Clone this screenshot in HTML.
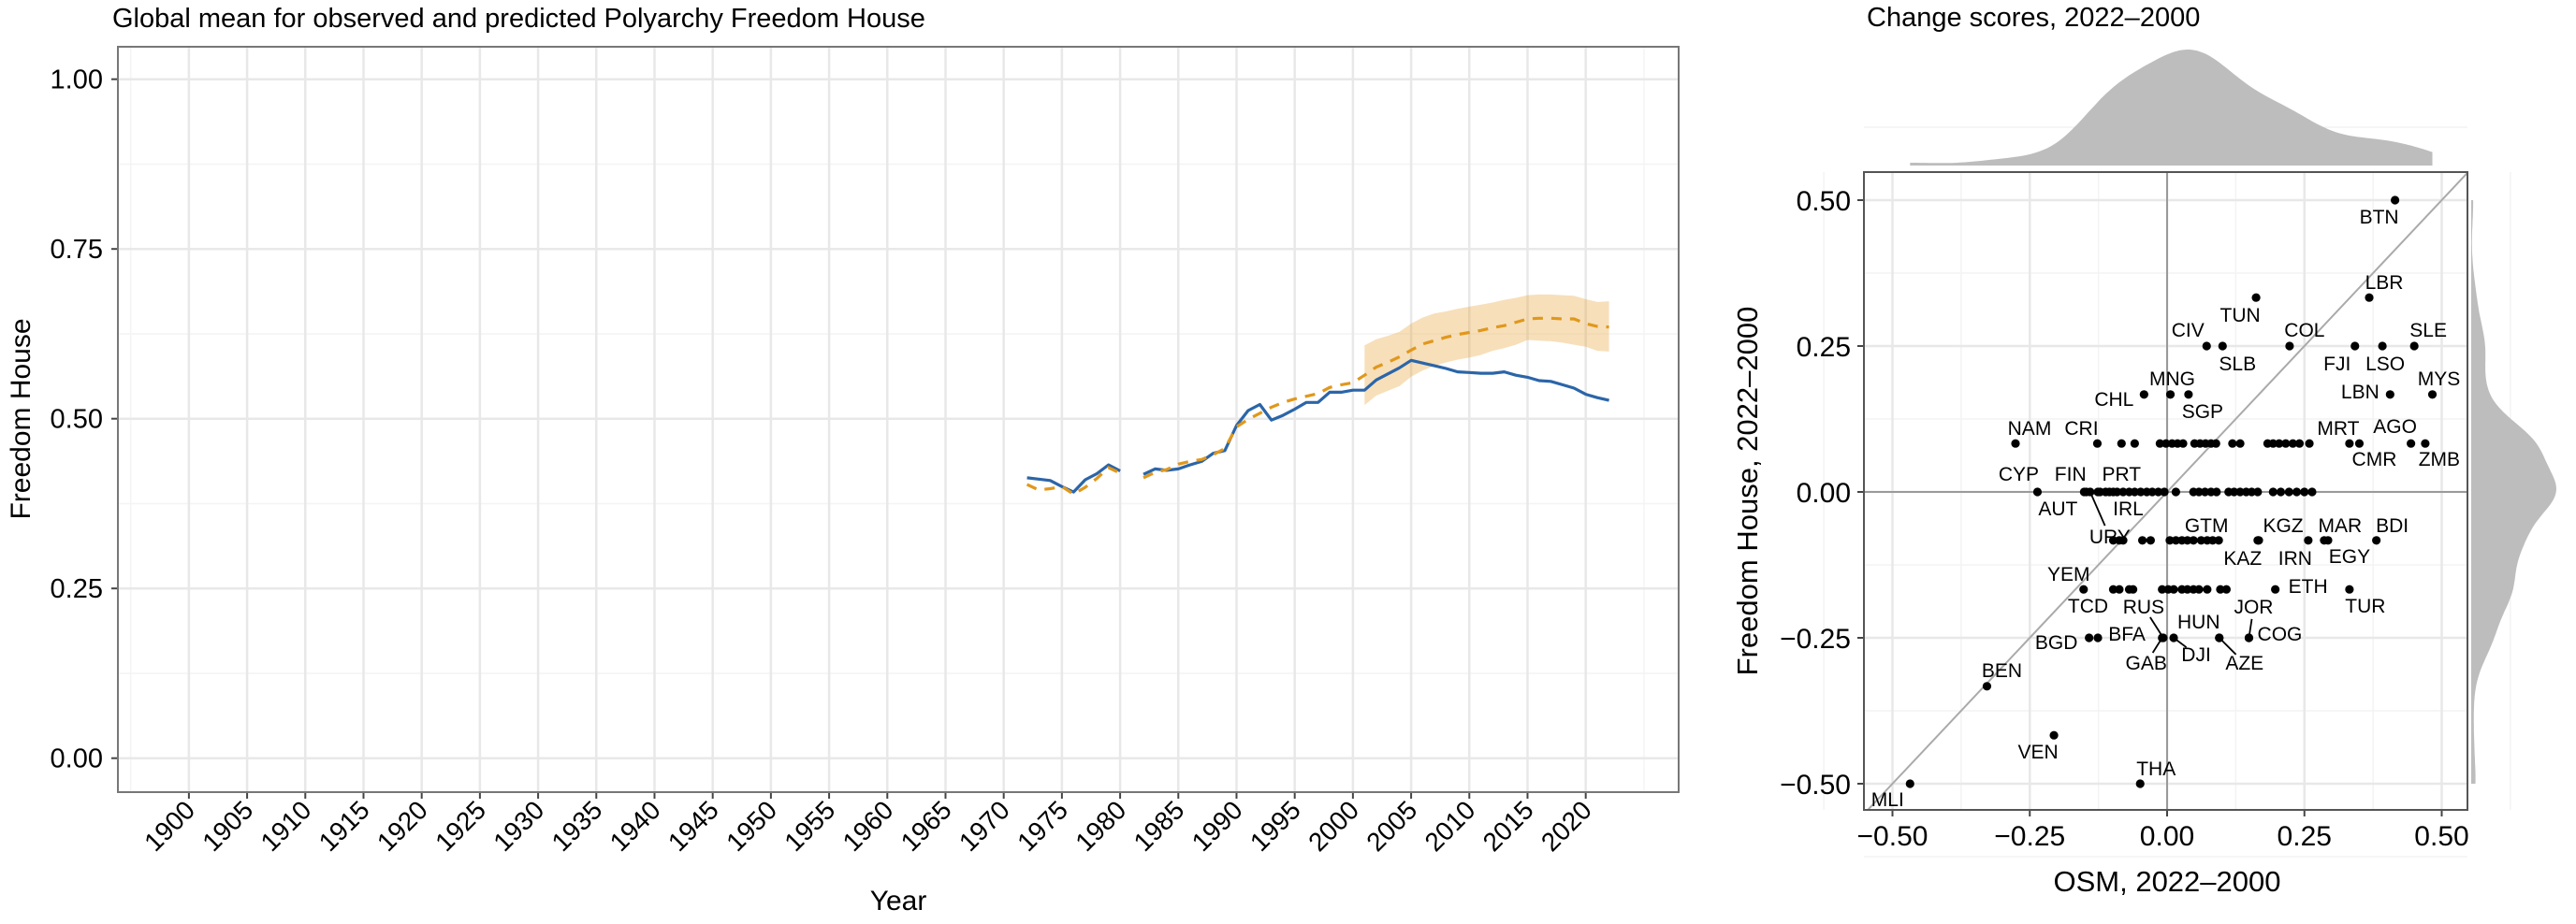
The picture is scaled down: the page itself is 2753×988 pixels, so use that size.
<!DOCTYPE html>
<html><head><meta charset="utf-8"><style>
html,body{margin:0;padding:0;background:#fff;}
svg{display:block;font-family:"Liberation Sans",Arial,sans-serif;}
</style></head><body>
<svg id="root" width="2753" height="988" viewBox="0 0 2753 988" xmlns="http://www.w3.org/2000/svg">
<defs>
<clipPath id="clipL"><rect x="126" y="50" width="1668" height="797"/></clipPath>
<clipPath id="clipR"><rect x="1992" y="184" width="645" height="682"/></clipPath>
</defs>
<text x="120" y="29" font-size="29" fill="#000">Global mean for observed and predicted Polyarchy Freedom House</text>
<text x="1995" y="28" font-size="29" fill="#000">Change scores, 2022–2000</text>
<g id="left"></g>
<g id="right"></g>
</svg>
<script>
// ---------- Left chart data ----------
const years = [1972,1973,1974,1975,1976,1977,1978,1979,1980,1981,1982,1983,1984,1985,1986,1987,1988,1989,1990,1991,1992,1993,1994,1995,1996,1997,1998,1999,2000,2001,2002,2003,2004,2005,2006,2007,2008,2009,2010,2011,2012,2013,2014,2015,2016,2017,2018,2019,2020,2021,2022];
const observed = [.413,.411,.409,.400,.392,.410,.419,.432,.423,null,.418,.426,.424,.426,.432,.437,.449,.453,.490,.512,.521,.498,.505,.514,.524,.524,.539,.539,.542,.542,.557,.566,.575,.586,.582,.578,.574,.569,.568,.567,.567,.569,.564,.561,.556,.555,.550,.545,.536,.531,.527];
const predicted = [.403,.395,.397,.400,.389,.399,.412,.428,.420,null,.413,.421,.425,.433,.437,.440,.447,.456,.488,.499,.508,.517,.524,.529,.533,.537,.546,.550,.553,.564,.576,.583,.591,.601,.610,.615,.620,.624,.627,.630,.634,.637,.642,.647,.648,.648,.647,.647,.640,.636,.635];
const bandYears = [2001,2002,2003,2004,2005,2006,2007,2008,2009,2010,2011,2012,2013,2014,2015,2016,2017,2018,2019,2020,2021,2022];
const bandLow = [.520,.534,.541,.548,.562,.571,.578,.583,.587,.590,.594,.600,.604,.609,.616,.615,.614,.612,.609,.606,.600,.599];
const bandHigh = [.608,.617,.622,.628,.640,.649,.655,.658,.662,.665,.668,.671,.675,.678,.682,.683,.683,.682,.681,.676,.672,.673];
const yTicksL = [0,0.25,0.5,0.75,1];
const yTickLabelsL = ["0.00","0.25","0.50","0.75","1.00"];
const xTicksL = [1900,1905,1910,1915,1920,1925,1930,1935,1940,1945,1950,1955,1960,1965,1970,1975,1980,1985,1990,1995,2000,2005,2010,2015,2020];

// ---------- Right chart data ----------
const labelNames = ["BTN","LBR","TUN","CIV","SLB","COL","FJI","LSO","SLE","CHL","MNG","SGP","LBN","MYS","NAM","CRI","MRT","CMR","AGO","ZMB",
"CYP","AUT","URY","FIN","PRT","IRL","GTM","KAZ","KGZ","IRN","MAR","EGY","BDI","YEM","TCD","ETH","TUR",
"BGD","BFA","GAB","RUS","DJI","HUN","AZE","JOR","COG","BEN","VEN","THA","MLI"];
const labelOsm = [0.415,0.368,0.162,0.072,0.101,0.223,0.342,0.392,0.450,-0.042,0.006,0.039,0.406,0.483,-0.276,-0.127,0.332,0.350,0.444,0.470,
-0.236,-0.151,-0.140,-0.147,-0.112,-0.098,0.048,0.165,0.167,0.257,0.286,0.293,0.381,-0.152,-0.098,0.197,0.332,
-0.142,-0.126,-0.009,-0.007,0.012,0.095,0.095,0.149,0.149,-0.328,-0.206,-0.049,-0.468];
const labelFh = [0.5,0.333,0.333,0.25,0.25,0.25,0.25,0.25,0.25,0.167,0.167,0.167,0.167,0.167,0.083,0.083,0.083,0.083,0.083,0.083,
0,0,0,0,0,0,-0.083,-0.083,-0.083,-0.083,-0.083,-0.083,-0.083,-0.167,-0.167,-0.167,-0.167,
-0.25,-0.25,-0.25,-0.25,-0.25,-0.25,-0.25,-0.25,-0.25,-0.333,-0.417,-0.5,-0.5];
const otherOsm = [-0.083,-0.059,-0.013,-0.002,0.009,0.019,0.029,0.050,0.060,0.070,0.080,0.089,0.119,0.133,0.183,0.193,0.204,0.216,0.229,0.241,0.259,
-0.126,-0.122,-0.105,-0.091,-0.080,-0.069,-0.059,-0.048,-0.037,-0.027,-0.016,-0.005,0.016,0.048,0.058,0.069,0.080,0.090,0.112,0.122,0.133,0.144,0.154,0.165,0.193,0.207,0.222,0.236,0.250,0.264,
-0.098,-0.087,-0.080,-0.045,-0.030,0.005,0.016,0.027,0.037,0.062,0.073,0.083,0.094,
-0.087,-0.069,-0.062,-0.009,0.002,0.012,0.027,0.037,0.048,0.058,0.073,0.097,0.108];
const otherFh = [0.083,0.083,0.083,0.083,0.083,0.083,0.083,0.083,0.083,0.083,0.083,0.083,0.083,0.083,0.083,0.083,0.083,0.083,0.083,0.083,0.083,
0,0,0,0,0,0,0,0,0,0,0,0,0,0,0,0,0,0,0,0,0,0,0,0,0,0,0,0,0,0,
-0.083,-0.083,-0.083,-0.083,-0.083,-0.083,-0.083,-0.083,-0.083,-0.083,-0.083,-0.083,-0.083,
-0.167,-0.167,-0.167,-0.167,-0.167,-0.167,-0.167,-0.167,-0.167,-0.167,-0.167,-0.167,-0.167];
const ticksR = [-0.5,-0.25,0,0.25,0.5];
const tickLabelsR = ["\u22120.50","\u22120.25","0.00","0.25","0.50"];

// label layout offsets (pixels, styling only)
const labelOffsets = {BTN:[-17,18],LBR:[16,-16],TUN:[-17,19],CIV:[-20,-17],SLB:[16,19],COL:[16,-17],FJI:[-19,19],LSO:[3,19],SLE:[15,-17],
CHL:[-32,5],MNG:[2,-17],SGP:[15,18],LBN:[-32,-3],MYS:[7,-17],NAM:[15,-16],CRI:[-17,-16],MRT:[-12,-16],CMR:[16,17],AGO:[-17,-18],ZMB:[15,17],
CYP:[-20,-19],AUT:[-28,18],URY:[21,48],FIN:[-17,-19],PRT:[17,-19],IRL:[16,18],GTM:[14,-16],KAZ:[-16,19],KGZ:[26,-16],IRN:[-14,19],MAR:[17,-16],EGY:[23,17],BDI:[17,-16],
YEM:[-16,-16],TCD:[-27,18],ETH:[35,-3],TUR:[17,18],BGD:[-35,5],BFA:[31,-4],GAB:[-17,27],RUS:[-21,-33],DJI:[24,18],HUN:[-22,-17],AZE:[27,27],JOR:[5,-33],COG:[33,-4],
BEN:[16,-17],VEN:[-17,18],THA:[17,-16],MLI:[-24,17]};
const segLabels = ["URY","RUS","JOR","AZE","GAB","DJI"];

const NS = "http://www.w3.org/2000/svg";
function mk(tag, attrs, parent){const e=document.createElementNS(NS,tag);for(const k in attrs)e.setAttribute(k,attrs[k]);parent.appendChild(e);return e;}

// ---------- Left chart ----------
const L = document.getElementById('left');
const xL = y => 126 + (y - 1893.9) * 12.44;
const yL = v => 447.7 - (v - 0.5) * 726;
const panelL = mk('rect',{x:126,y:50,width:1668,height:797,fill:'#fff'},L);


for (let v=0.125; v<1.1; v+=0.25){ const g=mk('line',{x1:126,x2:1794,y1:yL(v),y2:yL(v),stroke:'#f4f4f4','stroke-width':1.5},L);

}
for (let yr=1895; yr<=2025; yr+=5){ const g=mk('line',{x1:xL(yr),x2:xL(yr),y1:50,y2:847,stroke:'#f4f4f4','stroke-width':1.5},L);

}
yTicksL.forEach((v,i)=>{ const g=mk('line',{x1:126,x2:1794,y1:yL(v),y2:yL(v),stroke:'#e8e8e8','stroke-width':2.5},L);


const t=mk('line',{x1:119,x2:126,y1:yL(v),y2:yL(v),stroke:'#444','stroke-width':2},L);


const tx=mk('text',{x:110,y:yL(v)+10,'font-size':29,'text-anchor':'end',fill:'#000'},L); tx.textContent=yTickLabelsL[i];

});
xTicksL.forEach(yr=>{ const g=mk('line',{x1:xL(yr),x2:xL(yr),y1:50,y2:847,stroke:'#e8e8e8','stroke-width':2.5},L);


const t=mk('line',{x1:xL(yr),x2:xL(yr),y1:847,y2:854,stroke:'#444','stroke-width':2},L);


const X=xL(yr)+8, Y=868;
const tx=mk('text',{x:X,y:Y,'font-size':28,'text-anchor':'end',fill:'#000',transform:`rotate(-45 ${X} ${Y})`},L); tx.textContent=yr;

});
let bp = bandYears.map((y,i)=>`${xL(y)},${yL(bandHigh[i])}`).concat(bandYears.slice().reverse().map((y,i)=>`${xL(y)},${yL(bandLow[bandYears.length-1-i])}`));
const band = mk('polygon',{points:bp.join(' '),fill:'#e8a33a','fill-opacity':0.35,'clip-path':'url(#clipL)'},L);


function pathFrom(vals){let d='',pen=false;years.forEach((y,i)=>{const v=vals[i];if(v==null){pen=false;return;}d+=(pen?'L':'M')+xL(y).toFixed(1)+','+yL(v).toFixed(1);pen=true;});return d;}
const obs = mk('path',{d:pathFrom(observed),fill:'none',stroke:'#2b65a8','stroke-width':3.2,'stroke-linejoin':'round'},L);


const pred = mk('path',{d:pathFrom(predicted),fill:'none',stroke:'#e0981c','stroke-width':3.2,'stroke-dasharray':'11 9'},L);


const bL = mk('rect',{x:126,y:50,width:1668,height:797,fill:'none',stroke:'#777','stroke-width':2},L);


const yt = mk('text',{x:0,y:0,'font-size':30,'text-anchor':'middle',transform:'translate(32,448) rotate(-90)'},L); yt.textContent='Freedom House';


const xt = mk('text',{x:960,y:973,'font-size':30,'text-anchor':'middle'},L); xt.textContent='Year';



// ---------- Right chart ----------
const R = document.getElementById('right');
const xR = v => 2316 + v * 587;
const yR = v => 526 - v * 624;
for (let v=-0.625; v<=0.63; v+=0.25){
 const a=mk('line',{x1:1992,x2:2637,y1:yR(v),y2:yR(v),stroke:'#f3f3f3','stroke-width':1.5},R);
 
 
 const b=mk('line',{x1:xR(v),x2:xR(v),y1:184,y2:866,stroke:'#f3f3f3','stroke-width':1.5},R);
 
 }
ticksR.forEach((v,i)=>{
 const a=mk('line',{x1:1992,x2:2637,y1:yR(v),y2:yR(v),stroke:'#e8e8e8','stroke-width':2.5},R);
 
 
 const b=mk('line',{x1:xR(v),x2:xR(v),y1:184,y2:866,stroke:'#e8e8e8','stroke-width':2.5},R);
 
 
 const t1=mk('line',{x1:1985,x2:1992,y1:yR(v),y2:yR(v),stroke:'#444','stroke-width':2},R);
 
 
 const t2=mk('line',{x1:xR(v),x2:xR(v),y1:866,y2:873,stroke:'#444','stroke-width':2},R);
 
 
 const l1=mk('text',{x:1978,y:yR(v)+11,'font-size':30,'text-anchor':'end'},R); l1.textContent=tickLabelsR[i];
 
 
 const l2=mk('text',{x:xR(v),y:904,'font-size':30,'text-anchor':'middle'},R); l2.textContent=tickLabelsR[i];
 
 });
const h0=mk('line',{x1:1992,x2:2637,y1:yR(0),y2:yR(0),stroke:'#9a9a9a','stroke-width':2},R);


const v0=mk('line',{x1:xR(0),x2:xR(0),y1:184,y2:866,stroke:'#9a9a9a','stroke-width':2},R);


const diag=mk('line',{x1:xR(-0.6),y1:yR(-0.6),x2:xR(0.6),y2:yR(0.6),stroke:'#aaa','stroke-width':2,'clip-path':'url(#clipR)'},R);


labelNames.forEach((n,i)=>{
 const off=labelOffsets[n]; if(!off) return;
 const px=xR(labelOsm[i]), py=yR(labelFh[i]); const lx=px+off[0], ly=py+off[1];
 if(segLabels.includes(n)){
  const dx=off[0],dy=off[1],d=Math.hypot(dx,dy); const k=(d-13)/d;
  const s=mk('line',{x1:px,y1:py,x2:px+dx*k,y2:py+dy*k,stroke:'#000','stroke-width':1.8},R);
  
  }
 const t=mk('text',{x:lx,y:ly+7,'font-size':21,'text-anchor':'middle',fill:'#000'},R); t.textContent=n;
 
 });
otherOsm.forEach((v,i)=>{const c=mk('circle',{cx:xR(v),cy:yR(otherFh[i]),r:4.6,fill:'#000'},R);
 
 });
labelOsm.forEach((v,i)=>{const c=mk('circle',{cx:xR(v),cy:yR(labelFh[i]),r:4.6,fill:'#000'},R);
 
 });
const bR=mk('rect',{x:1992,y:184,width:645,height:682,fill:'none',stroke:'#555','stroke-width':2},R);


const xtR=mk('text',{x:2316,y:953,'font-size':31,'text-anchor':'middle'},R); xtR.textContent='OSM, 2022–2000';


const ytR=mk('text',{x:0,y:0,'font-size':31,'text-anchor':'middle',transform:'translate(1878,525) rotate(-90)'},R); ytR.textContent='Freedom House, 2022–2000';



const allOsm = labelOsm.concat(otherOsm);
const allFh = labelFh.concat(otherFh);
function kde(arr){const n=arr.length,m=arr.reduce((a,b)=>a+b)/n;const sd=Math.sqrt(arr.reduce((a,b)=>a+(b-m)**2,0)/(n-1));
 const s=arr.slice().sort((a,b)=>a-b);const q=p=>{const h=(n-1)*p,lo=Math.floor(h);return s[lo]+(s[Math.min(lo+1,n-1)]-s[lo])*(h-lo);};
 const iqr=q(.75)-q(.25);const bw=0.9*Math.min(sd,iqr/1.34)*Math.pow(n,-0.2);
 const lo=s[0],hi=s[n-1],pts=[];for(let k=0;k<=200;k++){const x=lo+(hi-lo)*k/200;let d=0;arr.forEach(a=>{d+=Math.exp(-0.5*((x-a)/bw)**2);});pts.push([x,d]);}
 const mx=Math.max(...pts.map(p=>p[1]));return pts.map(p=>[p[0],p[1]/mx]);}
const dx=kde(allOsm);
let dTop='M'+xR(dx[0][0])+',177'+dx.map(p=>'L'+xR(p[0]).toFixed(1)+','+(177-p[1]*124).toFixed(1)).join('')+'L'+xR(dx[dx.length-1][0])+',177Z';
const topD=mk('path',{d:dTop,fill:'#bdbdbd'},R);


const dy=kde(allFh);
let dRight='M2641,'+yR(dy[0][0])+dy.map(p=>'L'+(2641+p[1]*91).toFixed(1)+','+yR(p[0]).toFixed(1)).join('')+'L2641,'+yR(dy[dy.length-1][0])+'Z';
const rD=mk('path',{d:dRight,fill:'#bdbdbd'},R);


</script>
</body></html>
